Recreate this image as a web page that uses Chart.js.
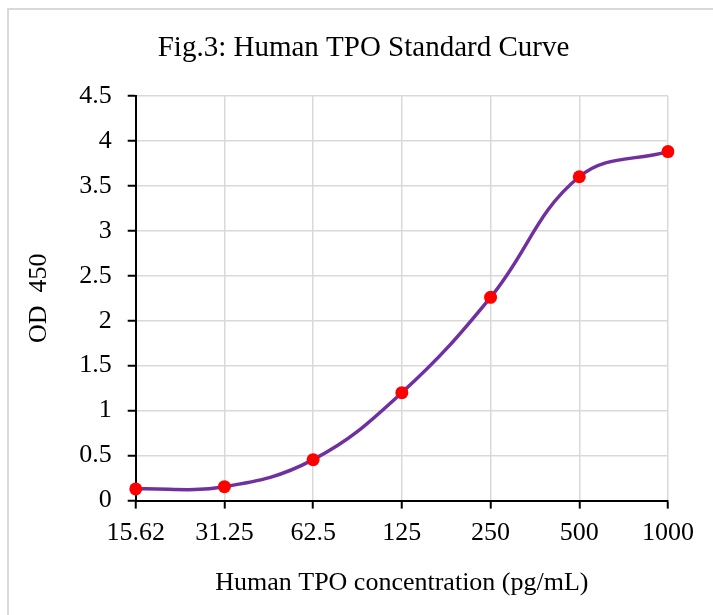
<!DOCTYPE html>
<html>
<head>
<meta charset="utf-8">
<script src="https://cdn.jsdelivr.net/npm/chart.js@4"></script>
<style>
  html, body { margin:0; padding:0; background:#fff; overflow:hidden; }
  #wrap { position:relative; width:713px; height:615px; }
  #frame { position:absolute; left:7px; top:8px; width:730px; height:640px; border:2px solid #d9d9d9; box-sizing:border-box; }
  canvas { position:absolute; left:0; top:0; }
</style>
</head>
<body>
<div id="wrap">
  <div id="frame"></div>
  <canvas id="chart" width="713" height="615"></canvas>
</div>
<script>
  // data
  const concentrations = ['15.62', '31.25', '62.5', '125', '250', '500', '1000'];
  const odValues = [0.13, 0.155, 0.455, 1.2, 2.26, 3.6, 3.88];
  const yTicks = [0, 0.5, 1, 1.5, 2, 2.5, 3, 3.5, 4, 4.5];

  const serif = '"Liberation Serif", "Times New Roman", serif';
  Chart.defaults.font.family = serif;
  Chart.defaults.color = '#000';

  new Chart(document.getElementById('chart').getContext('2d'), {
    type: 'line',
    data: {
      labels: concentrations,
      datasets: [{
        data: odValues,
        borderColor: '#7030A0',
        borderWidth: 3.5,
        tension: 0.4,
        pointRadius: 6.5,
        pointBackgroundColor: '#ff0000',
        pointBorderColor: '#ff0000',
        pointBorderWidth: 0,
        fill: false
      }]
    },
    options: {
      responsive: false,
      animation: false,
      layout: { padding: { left: 14, right: 0, top: 31, bottom: 10 } },
      plugins: {
        legend: { display: false },
        tooltip: { enabled: false },
        title: {
          display: true,
          text: 'Fig.3: Human TPO Standard Curve',
          font: { size: 29, weight: 'normal', family: serif },
          color: '#000',
          padding: { top: 0, bottom: 30 }
        }
      },
      scales: {
        x: {
          type: 'category',
          offset: false,
          afterFit: s => { s.paddingRight = 45; },
          grid: { color: '#d9d9d9', lineWidth: 1.5, tickLength: 8, tickColor: '#000', tickWidth: 2 },
          border: { color: '#000', width: 2 },
          ticks: { font: { size: 26 }, color: '#000', padding: 9, maxRotation: 0 },
          title: {
            display: true,
            text: 'Human TPO concentration (pg/mL)',
            font: { size: 26 },
            color: '#000',
            padding: { top: 10, bottom: 6 }
          }
        },
        y: {
          min: 0,
          max: 4.5,
          afterBuildTicks: s => { s.ticks = yTicks.map(v => ({ value: v })); },
          grid: { color: '#d9d9d9', lineWidth: 1.5, tickLength: 8, tickColor: '#000', tickWidth: 2 },
          border: { color: '#000', width: 2 },
          ticks: { font: { size: 26 }, color: '#000', padding: 16, callback: v => String(v) },
          title: {
            display: true,
            text: 'OD  450',
            font: { size: 26 },
            color: '#000',
            padding: { top: 10, bottom: 8 }
          }
        }
      }
    }
  });
</script>
</body>
</html>
